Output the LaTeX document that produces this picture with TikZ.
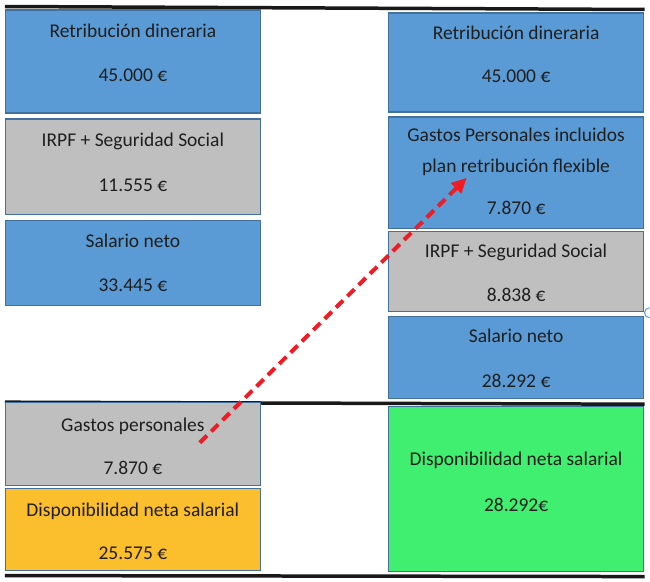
\documentclass[tikz,border=0pt]{standalone}
\usepackage{fontspec}
\setmainfont{Carlito}
\usetikzlibrary{arrows.meta}
\definecolor{cajaazul}{HTML}{5B9BD5}
\definecolor{cajagris}{HTML}{BFBFBF}
\definecolor{cajanaranja}{HTML}{FBBE2C}
\definecolor{cajaverde}{HTML}{40EE70}
\definecolor{borde}{HTML}{41719C}
\definecolor{rojo}{HTML}{EE1C25}

\begin{document}
\begin{tikzpicture}[x=1pt,y=-1pt,
  caja/.style={draw=borde, line width=1.2pt, inner sep=0pt, minimum width=255pt},
  azul/.style={caja, fill=cajaazul},
  gris/.style={caja, fill=cajagris},
  txt/.style={anchor=base, inner sep=0pt, text=black!88, font=\fontsize{19.5}{23}\selectfont},
  raya/.style={line width=3.5pt, black!90},
  flecha/.style={rojo, line width=4pt, dash pattern=on 10pt off 6pt, -{Triangle[length=15pt,width=14pt]}}]

% Fondo
\fill[white] (0,0) rectangle (650,582);

% Rayas
\draw[raya] (5,6.5) -- (645,9.5);
\draw[raya] (5,402.5) -- (645,404.5);
\draw[raya] (5,576) -- (645,577);

% Columna izquierda
\node[azul, minimum height=103pt] (l1) at (133,61.5) {};
\node[gris, minimum height=96pt] (l2) at (133,167) {};
\node[azul, minimum height=85pt] (l3) at (133,263.5) {};
\node[gris, minimum height=83pt] (l4) at (133,444.5) {};
\node[caja, fill=cajanaranja, minimum height=82pt] (l5) at (133,530) {};

\node[txt] (l1a) at (133,37.5) {Retribución dineraria};
\node[txt] (l1b) at (133,82) {45.000 €};
\node[txt] (l2a) at (133,147) {IRPF + Seguridad Social};
\node[txt] (l2b) at (133,192) {11.555 €};
\node[txt] (l3a) at (133,248) {Salario neto};
\node[txt] (l3b) at (133,292) {33.445 €};
\node[txt] (l4a) at (133,431.5) {Gastos personales};
\node[txt] (l4b) at (133,475) {7.870 €};
\node[txt] (l5a) at (133,516.5) {Disponibilidad neta salarial};
\node[txt] (l5b) at (133,560) {25.575 €};

% Columna derecha
\node[azul, minimum height=99pt] (r1) at (516.5,62.5) {};
\node[azul, minimum height=112pt] (r2) at (516.5,173) {};
\node[gris, minimum height=80pt] (r3) at (516.5,272) {};
\node[azul, minimum height=82pt] (r4) at (516.5,358) {};
\node[caja, fill=cajaverde, minimum height=165pt] (r5) at (516.5,489.5) {};

\node[txt] (r1a) at (516.5,39.5) {Retribución dineraria};
\node[txt] (r1b) at (516.5,83) {45.000 €};
\node[txt] (r2a) at (516.5,141.5) {Gastos Personales incluidos};
\node[txt] (r2b) at (516.5,173) {plan retribución flexible};
\node[txt] (r2c) at (516.5,215) {7.870 €};
\node[txt] (r3a) at (516.5,258) {IRPF + Seguridad Social};
\node[txt] (r3b) at (516.5,301.5) {8.838 €};
\node[txt] (r4a) at (516.5,343) {Salario neto};
\node[txt] (r4b) at (516.5,387.5) {28.292 €};
\node[txt] (r5a) at (516.5,465.5) {Disponibilidad neta salarial};
\node[txt] (r5b) at (516.5,512) {28.292€};

% Flecha
\draw[flecha] ([xshift=67pt,yshift=1.5pt]l4.center) -- ([xshift=-49.5pt,yshift=-5pt]r2.center);

% Asa
\draw[cajaazul, line width=1pt] (650,318) arc[start angle=90, end angle=270, radius=5];
\end{tikzpicture}
\end{document}
